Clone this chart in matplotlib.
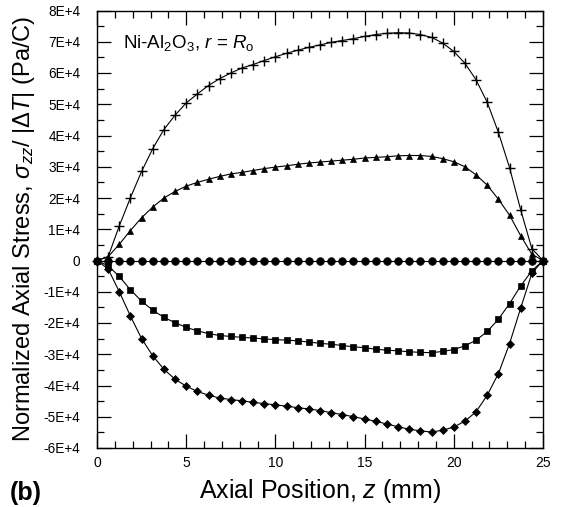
import numpy as np
import matplotlib
matplotlib.use("Agg")
import matplotlib.pyplot as plt
from matplotlib.ticker import MultipleLocator, FuncFormatter

plt.rcParams['font.family'] = ['Liberation Sans', 'DejaVu Sans']
plt.rcParams['mathtext.fontset'] = 'custom'
plt.rcParams['mathtext.rm'] = 'Liberation Sans'
plt.rcParams['mathtext.it'] = 'Liberation Sans:italic'
plt.rcParams['mathtext.bf'] = 'Liberation Sans:bold'

# axial position (mm)
z_mm = [0.0, 0.625, 1.25, 1.875, 2.5, 3.125, 3.75, 4.375, 5.0, 5.625,
        6.25, 6.875, 7.5, 8.125, 8.75, 9.375, 10.0, 10.625, 11.25, 11.875,
        12.5, 13.125, 13.75, 14.375, 15.0, 15.625, 16.25, 16.875, 17.5, 18.125,
        18.75, 19.375, 20.0, 20.625, 21.25, 21.875, 22.5, 23.125, 23.75, 24.375,
        25.0]

# normalized axial stress, units of 1E+4 Pa/C
s_plus = [0, 0.12, 1.11, 2.01, 2.85, 3.58, 4.19, 4.65, 5.04, 5.33,
          5.60, 5.82, 6.00, 6.16, 6.27, 6.40, 6.52, 6.63, 6.73, 6.82,
          6.90, 6.98, 7.04, 7.10, 7.17, 7.23, 7.27, 7.29, 7.28, 7.23,
          7.14, 6.96, 6.69, 6.31, 5.78, 5.06, 4.10, 2.97, 1.62, 0.38,
          0]
s_tri = [0, 0.12, 0.52, 0.96, 1.37, 1.71, 2.00, 2.21, 2.38, 2.50,
         2.60, 2.69, 2.77, 2.82, 2.88, 2.94, 2.99, 3.03, 3.08, 3.12,
         3.15, 3.18, 3.21, 3.24, 3.28, 3.30, 3.32, 3.35, 3.36, 3.36,
         3.33, 3.26, 3.16, 3.00, 2.74, 2.41, 1.96, 1.45, 0.79, 0.20,
         0]
s_circ = [0] * 41
s_sq = [0, -0.17, -0.51, -0.94, -1.30, -1.59, -1.82, -1.99, -2.14, -2.25,
        -2.34, -2.40, -2.43, -2.46, -2.48, -2.51, -2.53, -2.55, -2.57, -2.61,
        -2.65, -2.68, -2.72, -2.76, -2.79, -2.84, -2.87, -2.89, -2.92, -2.94,
        -2.95, -2.91, -2.85, -2.73, -2.55, -2.27, -1.88, -1.38, -0.81, -0.33,
        0]
s_dia = [0, -0.27, -1.00, -1.78, -2.50, -3.05, -3.48, -3.80, -4.02, -4.19,
         -4.31, -4.40, -4.45, -4.49, -4.54, -4.58, -4.62, -4.66, -4.71, -4.75,
         -4.80, -4.87, -4.93, -5.00, -5.07, -5.15, -5.23, -5.32, -5.40, -5.45,
         -5.49, -5.43, -5.33, -5.14, -4.84, -4.31, -3.62, -2.66, -1.52, -0.41,
         0]

fig = plt.figure(figsize=(5.62, 5.07), dpi=100)
ax = fig.add_axes([97 / 562, 1 - 448 / 507, 446 / 562, 437.5 / 507])

series = [(s_plus, '+', 6.5, 1.0), (s_tri, '^', 5, 0.5), (s_circ, 'o', 5.5, 0.5),
          (s_sq, 's', 4.5, 0.5), (s_dia, 'D', 4.2, 0.5)]
for vals, mk, ms, mew in series:
    ax.plot(z_mm, np.array(vals) * 1e4, color='black', lw=0.8, marker=mk,
            ms=ms, mew=mew, mfc='black', mec='black',
            clip_on=False, zorder=3)

ax.set_xlim(0, 25)
ax.set_ylim(-6e4, 8e4)
ax.xaxis.set_major_locator(MultipleLocator(5))
ax.xaxis.set_minor_locator(MultipleLocator(1))
ax.yaxis.set_major_locator(MultipleLocator(1e4))
ax.yaxis.set_minor_locator(MultipleLocator(5e3))


def sci_fmt(v, pos):
    n = int(round(v / 1e4))
    return '0' if n == 0 else f'{n}E+4'


ax.yaxis.set_major_formatter(FuncFormatter(sci_fmt))
ax.tick_params(which='both', direction='in', top=True, right=True, width=0.9)
ax.tick_params(which='major', length=10)
ax.tick_params(which='minor', length=4.8)
ax.tick_params(axis='x', labelsize=10, pad=6)
ax.tick_params(axis='y', labelsize=9.8, pad=12)
for sp in ax.spines.values():
    sp.set_linewidth(1.0)

ax.set_xlabel(r'Axial Position, $z$ (mm)', fontsize=18, labelpad=5)
ax.set_ylabel(r'Normalized Axial Stress, $\sigma_{zz}$/ |$\Delta T$| (Pa/C)',
              fontsize=17, labelpad=5)
ax.text(1.45, 6.8e4, r'Ni-Al$_2$O$_3$, $r$ = $R_{\rm o}$', fontsize=13.5)
fig.text(10 / 562, 1 - 500 / 507, '(b)', fontsize=18, fontweight='bold')

fig.savefig('out.png', dpi=100)
